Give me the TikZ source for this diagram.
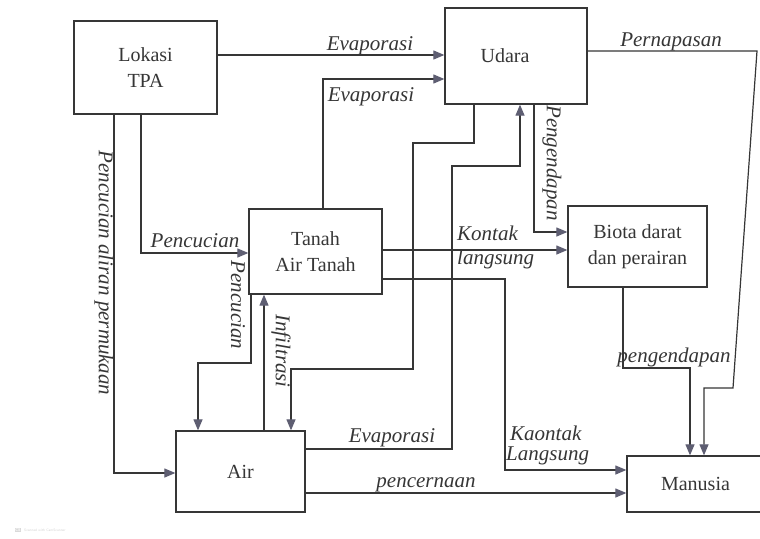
\documentclass[tikz,border=0pt]{standalone}
\usepackage{fontspec}
\setmainfont{Liberation Serif}
\usetikzlibrary{arrows.meta}
\definecolor{ink}{HTML}{363636}
\definecolor{tipc}{HTML}{5E5E72}

\begin{document}
\begin{tikzpicture}[x=1pt,y=-1pt,
  box/.style={draw=ink, line width=1.3pt, text=ink, align=center, inner sep=0pt,
              font=\fontsize{20}{26}\selectfont},
  flow/.style={draw=ink, line width=1.2pt, -{Triangle[length=11pt,width=9pt,color=tipc]}},
  lab/.style={text=ink, inner sep=0pt, font=\fontsize{21}{24}\selectfont\itshape},
]
\useasboundingbox (0,0) rectangle (760,538);
\fill[white] (0,0) rectangle (760,538);
\clip (0,0) rectangle (760,538);

% boxes
\node[box, minimum width=143pt, minimum height=93pt] (lok) at (145.5,67.5) {Lokasi\\TPA};
\node[box, minimum width=142pt, minimum height=96pt] (uda) at (516,56) {\hspace*{-22pt}Udara};
\node[box, minimum width=133pt, minimum height=85pt] (tan) at (315.5,251.5) {Tanah\\Air Tanah};
\node[box, minimum width=139pt, minimum height=81pt] (bio) at (637.5,246.5) {Biota darat\\dan perairan};
\node[box, minimum width=129pt, minimum height=81pt] (air) at (240.5,471.5) {Air};
\node[box, minimum width=137pt, minimum height=56pt] (man) at (695.5,484) {Manusia};

% bend points
\coordinate (c1) at (0,55);
\coordinate (c2) at (323,79);
\coordinate (c3a) at (757,51);
\coordinate (c3b) at (733,388);
\coordinate (c3c) at (704,388);
\coordinate (c4) at (534,232);
\coordinate (c5a) at (474,143);
\coordinate (c5b) at (413,143);
\coordinate (c5c) at (413,369);
\coordinate (c5d) at (291,369);
\coordinate (c6a) at (452,449);
\coordinate (c6b) at (452,166);
\coordinate (c6c) at (520,166);
\coordinate (c7) at (0,250);
\coordinate (c8a) at (505,279);
\coordinate (c8b) at (505,470);
\coordinate (c9) at (141,253);
\coordinate (c10) at (114,473);
\coordinate (c11a) at (251,363);
\coordinate (c11b) at (198,363);
\coordinate (c12) at (264,0);
\coordinate (c13) at (0,493);
\coordinate (c14a) at (623,368);
\coordinate (c14b) at (690,368);

% connectors
\draw[flow] (lok.east |- c1) -- (uda.west |- c1);
\draw[flow] (tan.north -| c2) -- (c2) -- (uda.west |- c2);
\draw[flow] (uda.east |- c3a) -- (c3a) -- (c3b) -- (c3c) -- (man.north -| c3c);
\draw[flow] (uda.south -| c4) -- (c4) -- (bio.west |- c4);
\draw[flow] (uda.south -| c5a) -- (c5a) -- (c5b) -- (c5c) -- (c5d) -- (air.north -| c5d);
\draw[flow] (air.east |- c6a) -- (c6a) -- (c6b) -- (c6c) -- (uda.south -| c6c);
\draw[flow] (tan.east |- c7) -- (bio.west |- c7);
\draw[flow] (tan.east |- c8a) -- (c8a) -- (c8b) -- (man.west |- c8b);
\draw[flow] (lok.south -| c9) -- (c9) -- (tan.west |- c9);
\draw[flow] (lok.south -| c10) -- (c10) -- (air.west |- c10);
\draw[flow] (tan.south -| c11a) -- (c11a) -- (c11b) -- (air.north -| c11b);
\draw[flow] (air.north -| c12) -- (tan.south -| c12);
\draw[flow] (air.east |- c13) -- (man.west |- c13);
\draw[flow] (bio.south -| c14a) -- (c14a) -- (c14b) -- (man.north -| c14b);

% connector labels
\node[lab, anchor=base] (l1) at (370,50) {Evaporasi};
\node[lab, anchor=base] (l2) at (371,101) {Evaporasi};
\node[lab, anchor=base] (l3) at (671,46) {Pernapasan};
\node[lab, rotate=-90] (l4) at (552,163) {Pengendapan};
\node[lab, anchor=base west] (l7a) at (457,240) {Kontak};
\node[lab, anchor=base west] (l7b) at (457,264) {langsung};
\node[lab, anchor=base west] (l8a) at (510,440) {Kaontak};
\node[lab, anchor=base west] (l8b) at (506,460) {Langsung};
\node[lab, anchor=base] (l9) at (195,247) {Pencucian};
\node[lab, rotate=-90] (l10) at (104,273) {Pencucian aliran permukaan};
\node[lab, rotate=-90] (l11) at (238,305) {Pencucian};
\node[lab, rotate=-90] (l12) at (281,351) {Infiltrasi};
\node[lab, anchor=base] (l6) at (392,442) {Evaporasi};
\node[lab, anchor=base] (l13) at (426,487) {pencernaan};
\node[lab, anchor=base] (l14) at (674,362) {pengendapan};

% scanner mark
\node[fill=gray!30, text=white, inner sep=0.6pt, font=\fontsize{4}{4}\sffamily\bfseries] (cs) at (18,530) {CS};
\node[anchor=west, text=gray!35, inner sep=0pt, font=\fontsize{3.5}{4}\sffamily] (cst) at (24,530.5) {Scanned with CamScanner};
\end{tikzpicture}
\end{document}
